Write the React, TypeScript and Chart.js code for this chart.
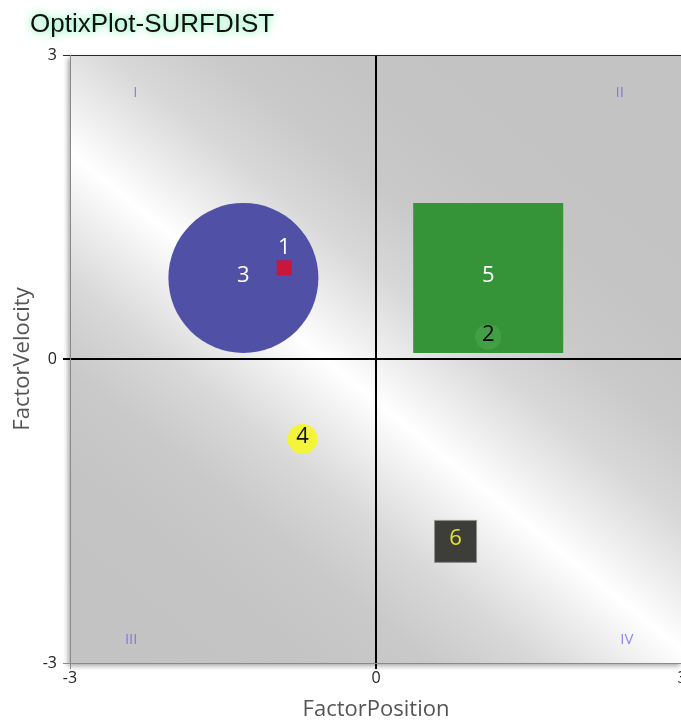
import React, { useEffect, useRef } from 'react';
import { Chart, registerables } from 'chart.js';

Chart.register(...registerables);

// ---- data ----
const pointIds = ['1', '2', '3', '4', '5', '6'];
const factorPosition = [-0.9, 1.1, -1.3, -0.72, 1.1, 0.78];
const factorVelocity = [0.9, 0.22, 0.8, -0.79, 0.8, -1.8];
const bubbleSize = [15, 26, 150, 30, 150, 42];
const markerShape = ['rect', 'circle', 'circle', 'circle', 'rect', 'rect'];
const axisTicks = [-3, 0, 3];
const quadrantNames = ['I', 'II', 'III', 'IV'];
const quadrantX = [-2.36, 2.39, -2.4, 2.46];
const quadrantY = [2.63, 2.63, -2.77, -2.77];

// ---- styles ----
const fillColors = ['#c8163c', 'rgba(120,200,120,0.22)', '#5050a6', '#f4f43c', '#359438', '#3d3e3a'];
const borderColors = ['#c8163c', 'rgba(95,180,95,0)', '#5050a6', '#f4f43c', '#359438', '#8f8f8f'];
const labelColors = ['#ffffff', '#000000', '#ffffff', '#111111', '#ffffff', '#e6e620'];

const drawOrder = pointIds.map((_, i) => i).sort((a, b) => bubbleSize[b] - bubbleSize[a]);

const radiusFor = (i: number) =>
  markerShape[i] === 'rect' ? bubbleSize[i] / 2 / Math.SQRT1_2 : bubbleSize[i] / 2;

const backgroundPlugin = {
  id: 'plotBackground',
  beforeDraw(chart: any) {
    const { ctx, chartArea: a } = chart;
    const w = a.right - a.left;
    const h = a.bottom - a.top;
    // white band running from upper-left toward lower-right
    const ax = a.left + 0.005 * w, ay = a.top + 0.164 * h;
    const bx = a.left + 1.0 * w, by = a.top + 0.979 * h;
    const mx = (ax + bx) / 2, my = (ay + by) / 2;
    let dx = bx - ax, dy = by - ay;
    const len = Math.hypot(dx, dy);
    dx /= len; dy /= len;
    const nx = dy, ny = -dx;
    const L = 500;
    const g = ctx.createLinearGradient(mx - nx * L, my - ny * L, mx + nx * L, my + ny * L);
    g.addColorStop(0, '#c3c3c3');
    g.addColorStop(0.25, '#c4c4c4');
    g.addColorStop(0.33, '#c9c9c9');
    g.addColorStop(0.4, '#d8d8d8');
    g.addColorStop(0.46, '#efefef');
    g.addColorStop(0.5, '#ffffff');
    g.addColorStop(0.54, '#efefef');
    g.addColorStop(0.6, '#d8d8d8');
    g.addColorStop(0.67, '#c9c9c9');
    g.addColorStop(0.75, '#c4c4c4');
    g.addColorStop(1, '#c3c3c3');
    ctx.save();
    ctx.shadowColor = 'rgba(0,0,0,0.35)';
    ctx.shadowBlur = 5;
    ctx.shadowOffsetX = -2;
    ctx.shadowOffsetY = 3;
    ctx.fillStyle = g;
    ctx.fillRect(a.left, a.top, w, h);
    ctx.restore();
  },
  beforeDatasetsDraw(chart: any) {
    const { ctx, scales } = chart;
    ctx.save();
    ctx.font = '15px "Open Sans"';
    ctx.fillStyle = 'rgba(100,100,245,0.75)';
    ctx.textAlign = 'center';
    ctx.textBaseline = 'middle';
    quadrantNames.forEach((q, i) => {
      ctx.fillText(q, scales.x.getPixelForValue(quadrantX[i]), scales.y.getPixelForValue(quadrantY[i]));
    });
    ctx.restore();
  },
  afterDatasetsDraw(chart: any) {
    const { ctx } = chart;
    const meta = chart.getDatasetMeta(0);
    ctx.save();
    ctx.font = '22px "Open Sans"';
    ctx.textAlign = 'center';
    ctx.textBaseline = 'alphabetic';
    meta.data.forEach((el: any, k: number) => {
      const i = drawOrder[k];
      let y = el.y + 4;
      if (bubbleSize[i] < 20) y = el.y - bubbleSize[i] / 2 - 6.5;
      ctx.fillStyle = labelColors[i];
      ctx.fillText(pointIds[i], el.x, y);
    });
    ctx.restore();
  },
};

const gridColor = (v: number) => (v === 0 ? '#000000' : v === 3 ? '#2a2a2a' : '#8a8a8a');

export default function App() {
  const ref = useRef<HTMLCanvasElement | null>(null);
  useEffect(() => {
    if (!ref.current) return;
    const chart = new Chart(ref.current, {
      type: 'bubble',
      data: {
        datasets: [
          {
            label: 'points',
            data: drawOrder.map((i) => ({ x: factorPosition[i], y: factorVelocity[i], r: radiusFor(i) })),
            backgroundColor: drawOrder.map((i) => fillColors[i]),
            borderColor: drawOrder.map((i) => borderColors[i]),
            borderWidth: drawOrder.map((i) => (i === 5 ? 1 : 0)),
            pointStyle: drawOrder.map((i) => markerShape[i]) as any,
            clip: false as any,
          },
        ],
      },
      options: {
        animation: false,
        responsive: false,
        events: [],
        layout: { autoPadding: false, padding: { top: 55, right: 18, left: 0, bottom: 0 } } as any,
        plugins: { legend: { display: false }, tooltip: { enabled: false } },
        scales: {
          x: {
            type: 'linear',
            min: -3,
            max: 3,
            afterBuildTicks: (s: any) => { s.ticks = axisTicks.map((v) => ({ value: v })); },
            afterFit: (s: any) => { s.height = 57; },
            ticks: { font: { family: 'Open Sans', size: 16 }, color: '#222', padding: 0, maxRotation: 0 },
            grid: {
              color: (c: any) => gridColor(c.tick.value),
              lineWidth: (c: any) => (c.tick.value === 0 ? 2 : 1),
              tickLength: 6,
            },
            border: { display: true, color: '#8a8a8a' },
            title: {
              display: true,
              text: 'FactorPosition',
              font: { family: 'Open Sans', size: 22 },
              color: '#555555',
              padding: { top: 0, bottom: -3 },
            },
          },
          y: {
            type: 'linear',
            min: -3,
            max: 3,
            afterBuildTicks: (s: any) => { s.ticks = axisTicks.map((v) => ({ value: v })); },
            afterFit: (s: any) => { s.width = 70; },
            ticks: { font: { family: 'Open Sans', size: 16 }, color: '#222', padding: 6 },
            grid: {
              color: (c: any) => gridColor(c.tick.value),
              lineWidth: (c: any) => (c.tick.value === 0 ? 2 : 1),
              tickLength: 7,
            },
            border: { display: true, color: '#8a8a8a' },
            title: {
              display: true,
              text: 'FactorVelocity',
              font: { family: 'Open Sans', size: 22 },
              color: '#555555',
              padding: { top: 10, bottom: 0 },
            },
          },
        },
      },
      plugins: [backgroundPlugin],
    });
    return () => chart.destroy();
  }, []);

  return (
    <div style={{ position: 'fixed', left: 0, top: 0, width: 681, height: 720, overflow: 'hidden', background: '#fff' }}>
      <canvas ref={ref} width={700} height={720} style={{ display: 'block', width: 700, height: 720 }} />
      <div
        style={{
          position: 'absolute',
          left: 30,
          top: 10,
          font: '26px "Liberation Sans", Arial, sans-serif',
          lineHeight: '26px',
          color: '#111',
          whiteSpace: 'nowrap',
          textShadow: '0 0 6px #9af2c0, 0 0 10px #b6f6d2, 0 0 14px #c8f8de',
        }}
      >
        OptixPlot-SURFDIST
      </div>
    </div>
  );
}
